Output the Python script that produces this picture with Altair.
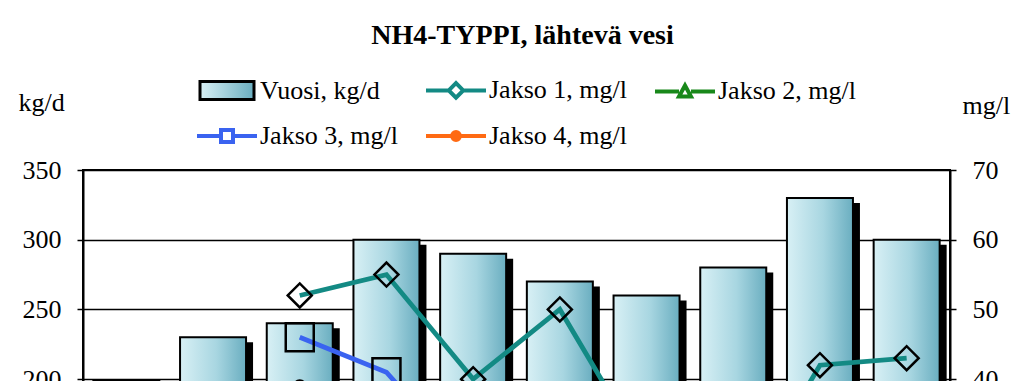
import altair as alt
import pandas as pd

# ---------------- data ----------------
years = ["2004", "2005", "2006", "2007", "2008", "2009", "2010", "2011", "2012", "2013"]
vuosi_kgd = [199, 230, 240, 300, 290, 270, 260, 280, 330, 300]
jakso1_mgl = [None, None, 52, 55, 40, 50, 29, 21, 42, 43]
jakso2_mgl = [None, None, 35, 32, 28, 30, 24, 19, 27, 29]
jakso3_mgl = [None, None, 46, 41, 27, 31, 25, 21, 28, 30]
jakso4_mgl = [None, None, 39, 30, 26, 28, 23, 18, 25, 27]

series_names = ["Vuosi, kg/d", "Jakso 1, mg/l", "Jakso 2, mg/l", "Jakso 3, mg/l", "Jakso 4, mg/l"]
# first entry is the outline colour of the bar symbol in the legend
series_colors = ["black", "#138a84", "#18881a", "#3a63f0", "#ff6a13"]
left_ticks = [0, 50, 100, 150, 200, 250, 300, 350]
right_ticks = [0, 10, 20, 30, 40, 50, 60, 70]

bar_df = pd.DataFrame({"year": years, "kgd": vuosi_kgd})
rows = []
for name, vals in zip(series_names[1:], [jakso1_mgl, jakso2_mgl, jakso3_mgl, jakso4_mgl]):
    for yr, v in zip(years, vals):
        if v is not None:
            rows.append({"year": yr, "series": name, "mgl": v})
line_df = pd.DataFrame(rows)

FONT = "Liberation Serif"
FS = 26

grad = alt.Gradient(
    gradient="linear",
    stops=[alt.GradientStop(color="#d8f0f5", offset=0),
           alt.GradientStop(color="#a8d6e1", offset=0.55),
           alt.GradientStop(color="#6aaec0", offset=1)],
    x1=0, x2=1, y1=0, y2=0,
)

x_enc = alt.X("year:N", sort=years, title=None,
              scale=alt.Scale(paddingInner=0.1, paddingOuter=0.05),
              axis=alt.Axis(labels=False, ticks=False, domainColor="black", domainWidth=2))

y_left = alt.Y("kgd:Q", scale=alt.Scale(domain=[0, 350]),
               axis=alt.Axis(values=left_ticks, title="kg/d", titleAngle=0, titleX=-65, titleY=-60,
                             titleAlign="left", titleBaseline="alphabetic", titleFontWeight="normal",
                             titleFont=FONT, titleFontSize=FS, titleColor="black",
                             labelFont=FONT, labelFontSize=FS, labelColor="black", labelPadding=16,
                             tickSize=6, tickColor="black", tickWidth=1.5,
                             domainColor="black", domainWidth=2,
                             grid=True, gridColor="black", gridWidth=1.3))

y_right = alt.Y("mgl:Q", scale=alt.Scale(domain=[0, 70]),
                axis=alt.Axis(orient="right", values=right_ticks, title="mg/l", titleAngle=0,
                              titleX=12, titleY=-57, titleAlign="left", titleBaseline="alphabetic",
                              titleFontWeight="normal", titleFont=FONT, titleFontSize=FS, titleColor="black",
                              labelFont=FONT, labelFontSize=FS, labelColor="black", labelPadding=16,
                              tickSize=6, tickColor="black", tickWidth=1.5,
                              domainColor="black", domainWidth=2, grid=False))

rect_path = "M-0.9,-0.3H0.9V0.3H-0.9Z"
diamond_path = "M-1,0H-0.24M0.24,0H1M-0.24,0L0,-0.24L0.24,0L0,0.24Z"
tri_path = "M-1,0H-0.2M0.2,0H1M-0.2,0.17L0,-0.2L0.2,0.17Z"
square_path = "M-1,0H-0.2M0.2,0H1M-0.2,-0.2H0.2V0.2H-0.2Z"
circle_path = "M-1,0H1M-0.13,0A0.13,0.13,0,1,0,0.13,0A0.13,0.13,0,1,0,-0.13,0Z"

is_bar = f"datum.value === '{series_names[0]}'"
shape_expr = (
    f"{is_bar} ? '{rect_path}' : "
    f"datum.value === '{series_names[1]}' ? '{diamond_path}' : "
    f"datum.value === '{series_names[2]}' ? '{tri_path}' : "
    f"datum.value === '{series_names[3]}' ? '{square_path}' : '{circle_path}'"
)
fill_expr = (f"{is_bar} ? {{gradient: 'linear', x1: 0, y1: 0, x2: 1, y2: 0, "
             f"stops: [{{offset: 0, color: '#d8f0f5'}}, {{offset: 1, color: '#6aaec0'}}]}} : 'transparent'")
stroke_expr = f"{is_bar} ? 'black' : scale('color', datum.value)"
sw_expr = f"{is_bar} ? 3 : 4"

legend = alt.Legend(
    title=None, orient="none", legendX=131, legendY=-93, columns=3, direction="horizontal",
    columnPadding=20, rowPadding=16, symbolSize=3600,
    symbolType=alt.ExprRef(expr=shape_expr),
    symbolFillColor=alt.ExprRef(expr=fill_expr),
    symbolStrokeColor=alt.ExprRef(expr=stroke_expr),
    symbolStrokeWidth=alt.ExprRef(expr=sw_expr),
    symbolOpacity=1,
    labelFont=FONT, labelFontSize=FS, labelColor="black", labelOffset=20, labelLimit=400,
)

shadow = alt.Chart(bar_df).mark_bar(color="black", size=66, xOffset=7, yOffset=5).encode(
    x=x_enc, y=y_left)
bars = alt.Chart(bar_df).mark_bar(fill=grad, stroke="black", strokeWidth=2, size=66).encode(
    x=x_enc, y=y_left)

lines = alt.Chart(line_df).mark_line(strokeWidth=4.8).encode(
    x=x_enc, y=y_right,
    color=alt.Color("series:N", scale=alt.Scale(domain=series_names, range=series_colors), legend=legend))

pt_names = series_names[1:]
points = alt.Chart(line_df).mark_point(filled=False, stroke="black", strokeWidth=2.5, opacity=1).encode(
    x=x_enc, y=y_right,
    shape=alt.Shape("series:N", scale=alt.Scale(domain=pt_names, range=["diamond", "triangle-up", "square", "circle"]), legend=None),
    size=alt.Size("series:N", scale=alt.Scale(type="ordinal", domain=pt_names, range=[576, 500, 784, 130]), legend=None),
    fill=alt.Fill("series:N", scale=alt.Scale(domain=pt_names, range=["transparent", "transparent", "transparent", "black"]), legend=None),
)

chart = alt.layer(
    alt.layer(shadow, bars),
    alt.layer(lines, points),
).resolve_scale(y="independent").properties(
    width=867, height=488,
    autosize=alt.AutoSizeParams(type="none"),
    padding={"left": 75, "top": 162, "right": 66, "bottom": 60},
    title=alt.TitleParams("NH4-TYPPI, lähtevä vesi", font=FONT, fontSize=28, fontWeight="bold",
                          color="black", anchor="middle", offset=27, dx=6),
).configure_view(stroke="black", strokeWidth=2)

chart.save("out.html", embed_options={"renderer": "svg", "actions": False})
